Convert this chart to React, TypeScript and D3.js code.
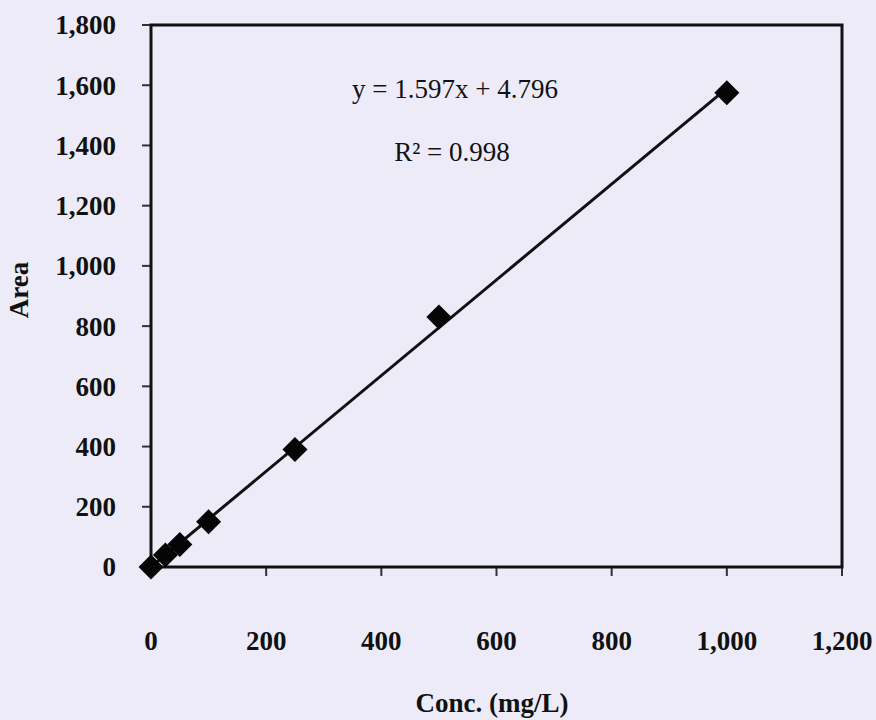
import React, { useEffect, useRef } from 'react'
import * as d3 from 'd3'

const concentrations: number[] = [0, 25, 50, 100, 250, 500, 1000]
const areas: number[] = [0, 40, 75, 150, 390, 830, 1575]
const xTicks: number[] = [0, 200, 400, 600, 800, 1000, 1200]
const yTicks: number[] = [0, 200, 400, 600, 800, 1000, 1200, 1400, 1600, 1800]
const equationText = 'y = 1.597x + 4.796'
const r2Text = 'R² = 0.998'

const W = 876
const H = 720

export default function App() {
  const svgRef = useRef<SVGSVGElement | null>(null)

  useEffect(() => {
    document.body.style.margin = '0'
    const svg = d3.select(svgRef.current)
    svg.selectAll('*').remove()

    const left = 151, right = 842, top = 25, bottom = 567
    const font = '"Liberation Serif", "Times New Roman", serif'

    svg.append('rect').attr('width', W).attr('height', H).attr('fill', '#ecebf7')

    const x = d3.scaleLinear().domain([0, 1200]).range([left, right])
    const y = d3.scaleLinear().domain([0, 1800]).range([bottom, top])

    // ticks
    svg.append('g').selectAll('line').data(xTicks).join('line')
      .attr('x1', d => x(d)).attr('x2', d => x(d))
      .attr('y1', bottom).attr('y2', bottom + 9)
      .attr('stroke', '#333').attr('stroke-width', 2)
    svg.append('g').selectAll('line').data(yTicks).join('line')
      .attr('x1', left - 9).attr('x2', left)
      .attr('y1', d => y(d)).attr('y2', d => y(d))
      .attr('stroke', '#333').attr('stroke-width', 2)

    // frame
    svg.append('rect')
      .attr('x', left).attr('y', top)
      .attr('width', right - left).attr('height', bottom - top)
      .attr('fill', 'none').attr('stroke', '#111').attr('stroke-width', 3)

    const fmt = d3.format(',')
    svg.append('g').selectAll('text').data(xTicks).join('text')
      .attr('x', d => x(d)).attr('y', 650)
      .attr('text-anchor', 'middle')
      .style('font-family', font).style('font-weight', 'bold').style('font-size', '27px')
      .attr('fill', '#111')
      .text(d => fmt(d))
    svg.append('g').selectAll('text').data(yTicks).join('text')
      .attr('x', 116).attr('y', d => y(d)).attr('dy', '0.35em')
      .attr('text-anchor', 'end')
      .style('font-family', font).style('font-weight', 'bold').style('font-size', '27px')
      .attr('fill', '#111')
      .text(d => fmt(d))

    // axis titles
    svg.append('text').attr('x', 492).attr('y', 712).attr('text-anchor', 'middle')
      .style('font-family', font).style('font-weight', 'bold').style('font-size', '27px')
      .attr('fill', '#111').text('Conc. (mg/L)')
    svg.append('text').attr('transform', 'translate(28,290) rotate(-90)').attr('text-anchor', 'middle')
      .style('font-family', font).style('font-weight', 'bold').style('font-size', '27px')
      .attr('fill', '#111').text('Area')

    // linear fit through the points
    const mx = d3.mean(concentrations)!
    const my = d3.mean(areas)!
    const slope = d3.sum(concentrations, (c, i) => (c - mx) * (areas[i] - my)) /
      d3.sum(concentrations, c => (c - mx) ** 2)
    const intercept = my - slope * mx
    const xMax = d3.max(concentrations)!
    const line = d3.line<number>().x(d => x(d)).y(d => y(slope * d + intercept))
    svg.append('path').attr('d', line([0, xMax]))
      .attr('fill', 'none').attr('stroke', '#111').attr('stroke-width', 3)

    // diamond markers
    const diamond = d3.symbol().type(d3.symbolDiamond2).size(400)
    svg.append('g').selectAll('path').data(concentrations).join('path')
      .attr('transform', (d, i) => `translate(${x(d)},${y(areas[i])})`)
      .attr('d', diamond()!)
      .attr('fill', '#050505')

    // equation labels
    svg.append('text').attr('x', 455).attr('y', 98).attr('text-anchor', 'middle')
      .style('font-family', font).style('font-size', '27px').attr('fill', '#111')
      .text(equationText)
    svg.append('text').attr('x', 452).attr('y', 161).attr('text-anchor', 'middle')
      .style('font-family', font).style('font-size', '27px').attr('fill', '#111')
      .text(r2Text)
  }, [])

  return <svg ref={svgRef} width={W} height={H} style={{ display: 'block' }} />
}
